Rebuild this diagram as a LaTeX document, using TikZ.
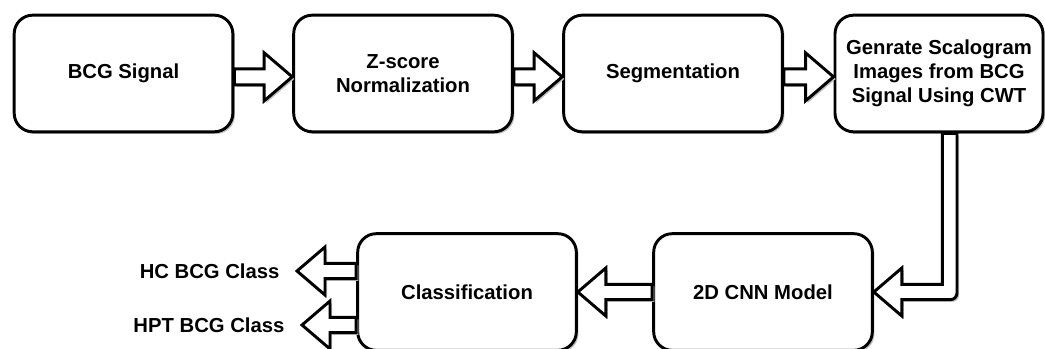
\documentclass[tikz,border=0pt]{standalone}
\usepackage{fontspec}
\setmainfont{Liberation Sans}
\usetikzlibrary{calc,shadows}
\begin{document}
\begin{tikzpicture}[x=0.75pt,y=-0.75pt,
  every node/.style={font=\bfseries\fontsize{15.2}{18}\selectfont},
  shade/.style={drop shadow={shadow xshift=1.6pt,shadow yshift=-1.6pt,fill=black!25,opacity=1}},
  stage/.style={draw,line width=2.2pt,rounded corners=14pt,fill=white,align=center,minimum width=164pt,minimum height=87.5pt,shade},
  label/.style={inner xsep=13pt},
  flow/.style={draw,line width=2.2pt,fill=white,line join=miter,shade}]
\useasboundingbox (0,0) rectangle (1045,349);
% pipeline, top row left to right, bottom row right to left
\node[stage] (bcg) at (123.5,73.5) {BCG Signal};
\node[stage] (zsn) at (403,73.5) {Z-score\\Normalization};
\node[stage] (seg) at (673,73.5) {Segmentation};
\node[stage,minimum width=156pt] (scal) at (939,73.5) {Genrate Scalogram\\Images from BCG\\Signal Using CWT};
\node[stage] (cnn) at (763,292) {2D CNN Model};
\node[stage] (cls) at (467,292) {Classification};
\node[label,anchor=east] (hc) at (297,271) {HC BCG Class};
\node[label,anchor=east] (hpt) at (302,325) {HPT BCG Class};
\foreach \a/\b in {bcg/zsn,zsn/seg,seg/scal} {
  \path[flow] let \p1=(\a.east), \p2=(\b.west) in (\x1,\y1+3.5pt) -- (\x2-21pt,\y1+3.5pt) -- (\x2-21pt,\y1+15.5pt) -- (\x2,\y1-2.5pt) -- (\x2-21pt,\y1-20.5pt) -- (\x2-21pt,\y1-8.5pt) -- (\x1,\y1-8.5pt) -- cycle;}
\foreach \a/\b in {cnn/cls,cls/hc,cls/hpt} {
  \path[flow] let \p1=(\a.west), \p2=(\b.east) in (\x1,\y2+5.75pt) -- (\x2+21pt,\y2+5.75pt) -- (\x2+21pt,\y2+18pt) -- (\x2,\y2) -- (\x2+21pt,\y2-18pt) -- (\x2+21pt,\y2-5.75pt) -- (\x1,\y2-5.75pt) -- cycle;}
\path[flow] let \p1=(scal.south), \p2=(cnn.east) in (\x1+2.5pt,\y1) -- (\x1+2.5pt,\y2+5.75pt) -- (\x2+21pt,\y2+5.75pt) -- (\x2+21pt,\y2+18pt) -- (\x2,\y2) -- (\x2+21pt,\y2-18pt) -- (\x2+21pt,\y2-5.75pt) [rounded corners=5pt] -- (\x1+13.5pt,\y2-5.75pt) [sharp corners] -- (\x1+13.5pt,\y1) -- cycle;
\end{tikzpicture}
\end{document}
